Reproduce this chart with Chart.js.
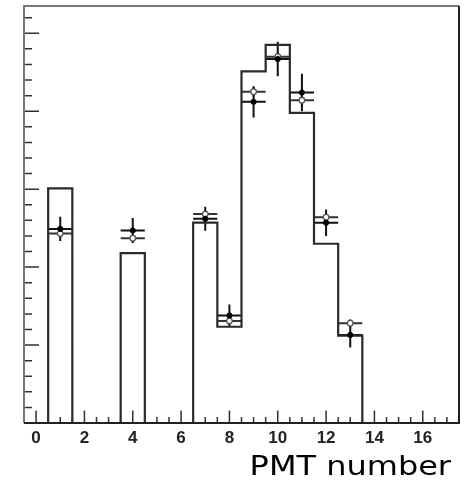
<!DOCTYPE html>
<html><head><meta charset="utf-8">
<script src="https://cdn.jsdelivr.net/npm/chart.js@4.4.0/dist/chart.umd.min.js"></script>
<style>html,body{margin:0;padding:0;background:#fff;overflow:hidden;} #wrap{width:465px;height:489px;}</style>
</head><body><div id="wrap"><canvas id="c" width="465" height="489"></canvas></div>
<script>
// ---- data ----
const xTickLabels = [0, 2, 4, 6, 8, 10, 12, 14, 16];
const histBins = [0, 1, 2, 3, 4, 5, 6, 7, 8, 9, 10, 11, 12, 13, 14, 15, 16, 17];
const histContents = [0, 30.1, 0, 0, 21.8, 0, 0, 25.7, 12.35, 45.1, 48.5, 39.8, 23.0, 11.2, 0, 0, 0, 0];
const pointBins = [1, 4, 7, 8, 9, 10, 11, 12, 13];
const filledValues = [24.9, 24.7, 26.2, 13.8, 41.2, 46.7, 42.4, 25.7, 11.3];
const filledErrors = [1.55, 1.6, 1.55, 1.4, 2.0, 2.2, 2.4, 1.7, 1.6];
const openValues = [24.3, 23.7, 26.8, 13.1, 42.5, 47.0, 41.4, 26.4, 12.8];
const openErrors = [0.5, 0.5, 0.5, 0.5, 0.6, 0.6, 0.6, 0.5, 0.5];
const xAxisTitle = 'PMT number';

// histogram outline points (bin lower edges) built from the bin contents
const histOutline = histBins.map((b, i) => ({ x: b - 0.5, y: histContents[i] }));
histOutline.push({ x: histBins[histBins.length - 1] + 0.5, y: 0 });

const filledPts = pointBins.map((b, i) => ({ x: b, y: filledValues[i], e: filledErrors[i] }));
const openPts = pointBins.map((b, i) => ({ x: b, y: openValues[i], e: openErrors[i] }));

const rootStyle = {
  id: 'rootStyle',
  beforeDatasetsDraw(chart) {
    const ctx = chart.ctx, xs = chart.scales.x, ys = chart.scales.y;
    ctx.save();
    const drawErr = (pts, color, lw) => {
      ctx.strokeStyle = color; ctx.lineWidth = lw;
      pts.forEach(p => {
        const px = xs.getPixelForValue(p.x), py = ys.getPixelForValue(p.y);
        ctx.beginPath();
        ctx.moveTo(xs.getPixelForValue(p.x - 0.5), py);
        ctx.lineTo(xs.getPixelForValue(p.x + 0.5), py);
        ctx.moveTo(px, ys.getPixelForValue(p.y + p.e));
        ctx.lineTo(px, ys.getPixelForValue(p.y - p.e));
        ctx.stroke();
      });
    };
    drawErr(openPts, '#333', 2);
    drawErr(filledPts, '#111', 2);
    ctx.restore();
  },
  afterDraw(chart) {
    const ctx = chart.ctx, a = chart.chartArea, xs = chart.scales.x, ys = chart.scales.y;
    ctx.save();
    // ticks
    ctx.strokeStyle = '#333'; ctx.lineWidth = 1.5;
    ctx.beginPath();
    for (let v = 0; v <= 17.01; v += 0.5) {
      const px = xs.getPixelForValue(v);
      const major = Math.abs(v / 2 - Math.round(v / 2)) < 1e-6;
      ctx.moveTo(px, a.bottom); ctx.lineTo(px, a.bottom - (major ? 12.5 : 6));
    }
    for (let v = 0; v <= ys.max; v += 2) {
      const py = ys.getPixelForValue(v);
      const major = v % 10 === 0;
      ctx.moveTo(a.left, py); ctx.lineTo(a.left + (major ? 15 : 8), py);
    }
    ctx.stroke();
    // frame
    ctx.lineWidth = 2;
    ctx.strokeStyle = '#777';
    ctx.beginPath();
    ctx.moveTo(a.left, a.bottom); ctx.lineTo(a.left, a.top); ctx.lineTo(a.right, a.top);
    ctx.stroke();
    ctx.strokeStyle = '#222';
    ctx.beginPath();
    ctx.moveTo(a.right, a.top); ctx.lineTo(a.right, a.bottom); ctx.lineTo(a.left, a.bottom);
    ctx.stroke();
    // axis title
    ctx.fillStyle = '#000';
    ctx.font = '26px "DejaVu Sans"';
    ctx.textAlign = 'right';
    ctx.textBaseline = 'alphabetic';
    ctx.translate(a.right - 8, 475);
    ctx.scale(1.23, 1);
    ctx.fillText(xAxisTitle, 0, 0);
    ctx.restore();
  }
};

new Chart(document.getElementById('c'), {
  type: 'scatter',
  data: {
    datasets: [
      { type: 'line', data: histOutline, stepped: 'before', borderColor: '#2a2a2a', borderWidth: 2.2,
        pointRadius: 0, fill: false, tension: 0, order: 3 },
      { data: openPts, pointRadius: 2.8, pointBackgroundColor: '#fff', pointBorderColor: '#555',
        pointBorderWidth: 1.3, order: 2 },
      { data: filledPts, pointRadius: 2.6, pointBackgroundColor: '#000', pointBorderColor: '#000',
        pointBorderWidth: 1, order: 1 }
    ]
  },
  options: {
    responsive: false, animation: false, devicePixelRatio: 1,
    layout: { padding: { left: 24, right: 6, top: 6, bottom: 0 } },
    plugins: { legend: { display: false }, tooltip: { enabled: false } },
    scales: {
      x: {
        type: 'linear', min: -0.5, max: 17.5,
        afterBuildTicks: s => { s.ticks = xTickLabels.map(v => ({ value: v })); },
        afterFit: s => { s.height = 66; },
        grid: { display: false, drawTicks: false }, border: { display: false },
        ticks: { padding: 5, color: '#222', font: { family: '"Liberation Sans", Arial, sans-serif', size: 17, weight: 'bold' },
                 maxRotation: 0, autoSkip: false }
      },
      y: {
        type: 'linear', min: 0, max: 53.5,
        afterFit: s => { s.width = 0; },
        grid: { display: false, drawTicks: false }, border: { display: false },
        ticks: { display: false }
      }
    }
  },
  plugins: [rootStyle]
});
</script>
</body></html>
